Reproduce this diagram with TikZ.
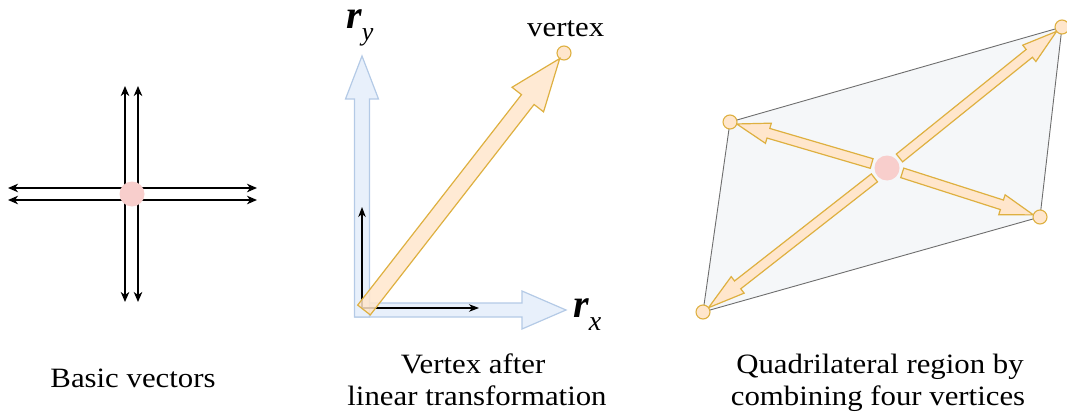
\documentclass[tikz,border=0pt]{standalone}
\usepackage{fontspec}
\setmainfont{Liberation Serif}
\usetikzlibrary{calc,arrows.meta}
\definecolor{pinkc}{RGB}{248,206,204}
\definecolor{orfill}{RGB}{255,230,204}
\definecolor{ordraw}{RGB}{222,176,64}
\definecolor{blfill}{RGB}{232,240,251}
\definecolor{bldraw}{RGB}{180,202,230}
\definecolor{quadfill}{RGB}{245,247,249}
\definecolor{quaddraw}{RGB}{110,110,110}
% style, start, end, half shaft, half head, head length
\newcommand\blockarrow[6]{%
  \coordinate (bap) at ($(#3)!#6!(#2)$);
  \filldraw[#1] ($(#2)!#4!90:(#3)$) -- ($(bap)!#4!-90:(#2)$) -- ($(bap)!#5!-90:(#2)$)
    -- (#3) -- ($(bap)!#5!90:(#2)$) -- ($(bap)!#4!90:(#2)$) -- ($(#2)!#4!-90:(#3)$) -- cycle;
}
\tikzset{
  blk/.style={line width=1.3pt, -{Stealth[length=10pt,width=8.5pt,inset=3pt]}},
  blksmall/.style={line width=1.1pt, -{Stealth[length=10pt,width=7.5pt,inset=3pt]}},
  pinkdot/.style={circle, fill=pinkc, inner sep=0pt, minimum size=25pt},
  vdot/.style={circle, fill=orfill, draw=ordraw, line width=1.1pt, inner sep=0pt, minimum size=14pt},
  orarrow/.style={fill=orfill, draw=ordraw, line width=1.2pt, line join=miter},
  blarrow/.style={fill=blfill, draw=bldraw, line width=1.2pt},
  caplabel/.style={inner sep=0pt, anchor=base, font=\fontsize{28}{32}\selectfont},
  quad/.style={fill=quadfill, draw=quaddraw, line width=0.9pt},
}
\newcommand\sx[1]{\scalebox{1.1}[1]{#1}}
\begin{document}
\begin{tikzpicture}[x=1pt, y=-1pt]
\useasboundingbox (0,0) rectangle (1067,417);

% ---------- Panel 1: basic vectors ----------
\coordinate (c1) at (132,194);
\coordinate (va) at (125,194); \coordinate (vb) at (138,194);
\coordinate (ha) at (132,188); \coordinate (hb) at (132,200);
\coordinate (vat) at (125,86);  \coordinate (vab) at (125,302);
\coordinate (vbt) at (138,86);  \coordinate (vbb) at (138,302);
\coordinate (hal) at (8,188);   \coordinate (har) at (257,188);
\coordinate (hbl) at (8,200);   \coordinate (hbr) at (257,200);
\draw[blk] (va) -- (vat);
\draw[blk] (va) -- (vab);
\draw[blk] (vb) -- (vbt);
\draw[blk] (vb) -- (vbb);
\draw[blk] (ha) -- (hal);
\draw[blk] (ha) -- (har);
\draw[blk] (hb) -- (hbl);
\draw[blk] (hb) -- (hbr);
\node[pinkdot] (p1) at (c1) {};
\node[caplabel] (cap1) at (133,387) {\sx{Basic vectors}};

% ---------- Panel 2: vertex after linear transformation ----------
\coordinate (bxs) at (355,310); \coordinate (bxe) at (566,310);
\coordinate (bys) at (362,317); \coordinate (bye) at (362,56);
\blockarrow{blarrow}{bxs}{bxe}{7pt}{19pt}{44pt}
\blockarrow{blarrow}{bys}{bye}{7.5pt}{16.5pt}{43pt}
\coordinate (o2) at (362,308);
\coordinate (kx) at (479,308);
\coordinate (ky) at (362,207);
\draw[blksmall] (o2) -- (kx);
\draw[blksmall] (o2) -- (ky);
\node[vdot] (vx) at (564,53) {};
\coordinate (os) at (364,310);
\coordinate (oe) at ($(vx)!7pt!(os)$);
\blockarrow{orarrow, fill opacity=0.85}{os}{oe}{8pt}{20pt}{52pt}
\node[inner sep=0pt, anchor=base west, font=\fontsize{28}{32}\selectfont] (vlab) at (527,37) {\sx{vertex}};
\node[inner sep=0pt, anchor=base west] (ry) at (346,29)
  {\smash{{\fontsize{40}{40}\selectfont\bfseries\itshape r}\raisebox{-12pt}{\fontsize{26}{26}\selectfont\itshape y}}};
\node[inner sep=0pt, anchor=base west] (rx) at (573,317)
  {{\fontsize{40}{40}\selectfont\bfseries\itshape r}\raisebox{-13pt}{\fontsize{28}{28}\selectfont\itshape x}};
\node[caplabel] (cap2a) at (473,373) {\sx{Vertex after}};
\node[caplabel] (cap2b) at (477,405) {\sx{linear transformation}};

% ---------- Panel 3: quadrilateral region ----------
\coordinate (tl) at (730,122);
\coordinate (tr) at (1062,27);
\coordinate (br) at (1040,217);
\coordinate (bl) at (703,312);
\draw[quad] (tl) -- (tr) -- (br) -- (bl) -- cycle;
\coordinate (c3) at (887,168);
\foreach \k in {tl,tr,br,bl}{
  \coordinate (s\k) at ($(c3)!16pt!(\k)$);
  \coordinate (e\k) at ($(\k)!7pt!(c3)$);
}
\blockarrow{orarrow}{stl}{etl}{5pt}{10.5pt}{33pt}
\blockarrow{orarrow}{str}{etr}{5pt}{10.5pt}{35pt}
\blockarrow{orarrow}{sbr}{ebr}{5pt}{10.5pt}{33pt}
\blockarrow{orarrow}{sbl}{ebl}{5pt}{10.5pt}{37pt}
\node[pinkdot] (p3) at (c3) {};
\node[vdot] (ntl) at (tl) {};
\node[vdot] (ntr) at (tr) {};
\node[vdot] (nbr) at (br) {};
\node[vdot] (nbl) at (bl) {};
\node[caplabel] (cap3a) at (880,373) {\sx{Quadrilateral region by}};
\node[caplabel] (cap3b) at (878,405) {\sx{combining four vertices}};
\end{tikzpicture}
\end{document}
